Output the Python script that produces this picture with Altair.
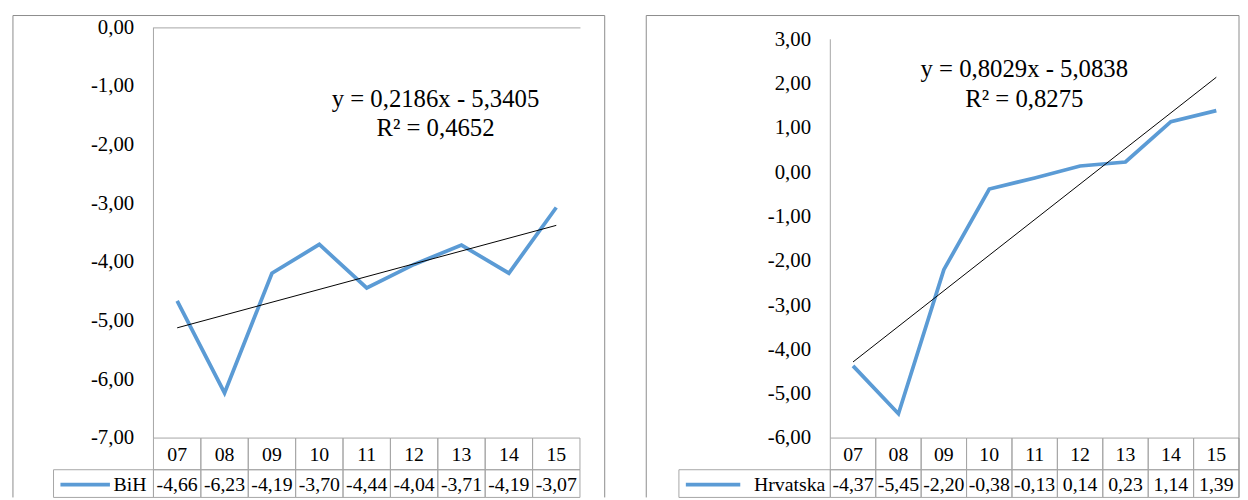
import altair as alt
import pandas as pd

years = ["07", "08", "09", "10", "11", "12", "13", "14", "15"]
bih = [-4.66, -6.23, -4.19, -3.70, -4.44, -4.04, -3.71, -4.19, -3.07]
hrv = [-4.37, -5.45, -2.20, -0.38, -0.13, 0.14, 0.23, 1.14, 1.39]
bih_eq = ["y = 0,2186x - 5,3405", "R² = 0,4652"]
hrv_eq = ["y = 0,8029x - 5,0838", "R² = 0,8275"]

FONT = "Liberation Serif"
GRID = "#a6a6a6"
BORDER = "#8c8c8c"
BLUE = "#5B9BD5"
COMMA = "replace(replace(format(datum.value, '.2f'), '.', ','), '\u2212', '-')"
H = 415


def panel(name, vals, eq, ydom, ticks, W, axis_top, b_left, b_right, leg_left,
          leg_line, leg_text_x, eq_x, eq_y, top_line):
    df = pd.DataFrame({"year": years, "value": vals,
                       "idx": list(range(1, len(years) + 1))})
    base = alt.Chart(df)
    xs = alt.Scale(domain=[0.5, len(years) + 0.5], nice=False, zero=False)
    if top_line:
        xax = alt.Axis(orient="top", labels=False, ticks=False, grid=False,
                       domainColor=GRID, title=None)
    else:
        xax = None
    ys = alt.Scale(domain=ydom, nice=False, zero=False)
    yax = alt.Axis(values=ticks, labelExpr=COMMA, domain=False,
                   ticks=False, grid=False,
                   labelFont=FONT, labelFontSize=21, labelColor="black",
                   labelPadding=20, title=None)
    bottom = H + 60
    b_top = -12

    line = base.mark_line(color=BLUE, strokeWidth=3.8).encode(
        x=alt.X("idx:Q", scale=xs, axis=xax),
        y=alt.Y("value:Q", scale=ys, axis=yax))

    trend = (base.transform_regression("idx", "value", method="linear")
             .mark_line(color="black", strokeWidth=1)
             .encode(x=alt.X("idx:Q"), y=alt.Y("value:Q")))

    cellbase = base.transform_calculate(x0="datum.idx - 0.5", x1="datum.idx + 0.5")
    cells1 = cellbase.mark_rect(fill="white", fillOpacity=0, stroke=GRID, strokeWidth=1).encode(
        x=alt.X("x0:Q"), x2="x1:Q", y=alt.value(H), y2=alt.value(H + 32))
    cells2 = cellbase.mark_rect(fill="white", fillOpacity=0, stroke=GRID, strokeWidth=1).encode(
        x=alt.X("x0:Q"), x2="x1:Q", y=alt.value(H + 32), y2=alt.value(bottom))
    cat_txt = base.mark_text(font=FONT, fontSize=20, color="black", baseline="middle").encode(
        x=alt.X("idx:Q"), y=alt.value(H + 17), text="year:N")
    val_txt = (base.transform_calculate(lab=COMMA)
               .mark_text(font=FONT, fontSize=20, color="black", baseline="middle")
               .encode(x=alt.X("idx:Q"), y=alt.value(H + 48), text="lab:N"))

    one = alt.Chart(pd.DataFrame({"series": [name]}))
    yline = one.mark_rule(color=GRID, strokeWidth=1).encode(
        x=alt.value(0), y=alt.value(axis_top), y2=alt.value(H))
    leg_cell = one.mark_rect(fill="white", fillOpacity=0, stroke=GRID, strokeWidth=1).encode(
        x=alt.value(leg_left), x2=alt.value(0), y=alt.value(H + 32), y2=alt.value(bottom))
    leg_line_m = one.mark_rule(color=BLUE, strokeWidth=3.8).encode(
        x=alt.value(leg_line[0]), x2=alt.value(leg_line[1]), y=alt.value(H + 47))
    leg_txt = one.mark_text(font=FONT, fontSize=20, color="black", align="right",
                            baseline="middle").encode(
        x=alt.value(leg_text_x), y=alt.value(H + 48), text="series:N")

    eq1 = one.mark_text(font=FONT, fontSize=25, color="black", align="center",
                        baseline="middle").encode(
        x=alt.value(eq_x), y=alt.value(eq_y[0]), text=alt.value(eq[0]))
    eq2 = one.mark_text(font=FONT, fontSize=25, color="black", align="center",
                        baseline="middle").encode(
        x=alt.value(eq_x), y=alt.value(eq_y[1]), text=alt.value(eq[1]))

    bt = one.mark_rule(color=BORDER, strokeWidth=1).encode(
        x=alt.value(b_left), x2=alt.value(b_right), y=alt.value(b_top))
    bl = one.mark_rule(color=BORDER, strokeWidth=1).encode(
        x=alt.value(b_left), y=alt.value(b_top), y2=alt.value(bottom))
    br = one.mark_rule(color=BORDER, strokeWidth=1).encode(
        x=alt.value(b_right), y=alt.value(b_top), y2=alt.value(bottom))

    layers = [line, trend, yline, cells1, cells2, cat_txt, val_txt, leg_cell,
              leg_line_m, leg_txt, eq1, eq2, bt, bl, br]
    return alt.layer(*layers).properties(width=W, height=H)


# right panel: 3,00 sits 12 px below the panel's plot top (same top as left panel)
r_unit = (H - 12) / 9.0
left = panel("BiH", bih, bih_eq, [-7, 0], list(range(-7, 1)), 431, 0,
             -142, 456, -101, (-94, -44), -7, 285, (72, 102), True)
right = panel("Hrvatska", hrv, hrv_eq, [-6, 3 + 12 / r_unit], list(range(-6, 4)), 413, 12,
              -186, 413, -153, (-146, -91), -5, 196, (42, 72), False)

chart = (alt.hconcat(left, right, spacing=40)
         .properties(padding={"left": 4, "top": 4, "right": 0, "bottom": 0})
         .configure_view(stroke=None))

chart.save("out.html", embed_options={"renderer": "svg", "actions": False})
